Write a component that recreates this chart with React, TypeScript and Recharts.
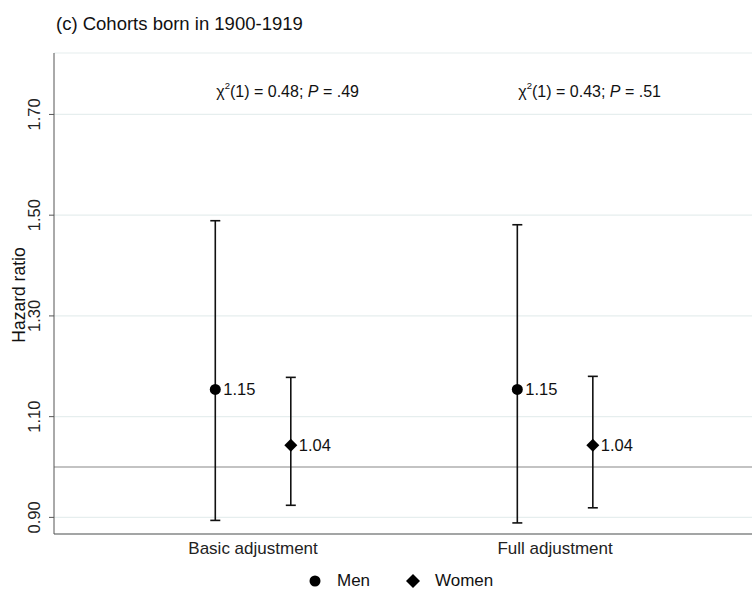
import {
  ComposedChart,
  Scatter,
  ErrorBar,
  XAxis,
  YAxis,
  CartesianGrid,
  ReferenceLine,
  ReferenceDot,
} from 'recharts';

// values
const categories = ['Basic adjustment', 'Full adjustment'];
const menHR = [1.154, 1.154];
const menLow = [0.894, 0.889];
const menHigh = [1.489, 1.481];
const womenHR = [1.043, 1.043];
const womenLow = [0.924, 0.919];
const womenHigh = [1.178, 1.18];
const chiSq = ['0.48', '0.43'];
const pValues = ['.49', '.51'];
const yTicks = [0.9, 1.1, 1.3, 1.5, 1.7];

const FONT = '"Liberation Sans", Arial, sans-serif';
const GROUP_OFFSET = 0.125;
const ANNOT_Y = 1.734;

const menData = categories.map((c, i) => ({
  x: i + 1 - GROUP_OFFSET,
  y: menHR[i],
  err: [menHR[i] - menLow[i], menHigh[i] - menHR[i]],
}));

const womenData = categories.map((c, i) => ({
  x: i + 1 + GROUP_OFFSET,
  y: womenHR[i],
  err: [womenHR[i] - womenLow[i], womenHigh[i] - womenHR[i]],
}));

const CircleShape = (p: any) => (
  <g>
    <circle cx={p.cx} cy={p.cy} r={5.5} fill="#000" />
    <text x={p.cx + 8} y={p.cy + 6} fontSize={16.5} fontFamily={FONT} fill="#111">
      {p.payload.y.toFixed(2)}
    </text>
  </g>
);

const DiamondShape = (p: any) => (
  <g>
    <polygon
      points={`${p.cx},${p.cy - 6.5} ${p.cx + 6.5},${p.cy} ${p.cx},${p.cy + 6.5} ${p.cx - 6.5},${p.cy}`}
      fill="#000"
    />
    <text x={p.cx + 8} y={p.cy + 6} fontSize={16.5} fontFamily={FONT} fill="#111">
      {p.payload.y.toFixed(2)}
    </text>
  </g>
);

const YTick = (p: any) => (
  <text
    x={p.x - 5}
    y={p.y}
    transform={`rotate(-90, ${p.x - 5}, ${p.y})`}
    textAnchor="middle"
    fontSize={16.5}
    fontFamily={FONT}
    fill="#222"
  >
    {Number(p.payload.value).toFixed(2)}
  </text>
);

const annotation = (i: number) => (p: any) => (
  <text x={p.cx + 1} y={p.cy} fontSize={16} fontFamily={FONT} fill="#111">
    χ
    <tspan dy={-8} fontSize={9.5}>2</tspan>
    <tspan dy={8}>{`(1) = ${chiSq[i]}; `}</tspan>
    <tspan fontStyle="italic">P</tspan>
    <tspan>{` = ${pValues[i]}`}</tspan>
  </text>
);

const legendText = {
  position: 'absolute' as const,
  top: 571,
  fontFamily: FONT,
  fontSize: 17,
  color: '#111',
  lineHeight: '20px',
};

export default function App() {
  return (
    <div style={{ position: 'absolute', left: 0, top: 0, width: 752, height: 590, background: '#fff', overflow: 'hidden' }}>
      <div
        style={{
          position: 'absolute',
          left: 56,
          top: 13,
          fontFamily: FONT,
          fontSize: 18.5,
          color: '#111',
          lineHeight: '21px',
          whiteSpace: 'nowrap',
        }}
      >
        (c) Cohorts born in 1900-1919
      </div>
      <ComposedChart width={752} height={590} margin={{ top: 53, right: 0, bottom: 26, left: 0 }}>
        <CartesianGrid vertical={false} stroke="#e6eeee" strokeWidth={1.2} />
        <XAxis
          type="number"
          dataKey="x"
          domain={[0.341, 2.652]}
          ticks={[1, 2]}
          allowDataOverflow
          tickFormatter={(v: number) => categories[v - 1]}
          tickLine={false}
          tickSize={6}
          height={30}
          stroke="#555"
          tick={{ fontSize: 17, fontFamily: FONT, fill: '#222' }}
        />
        <YAxis
          type="number"
          dataKey="y"
          domain={[0.867, 1.822]}
          ticks={yTicks}
          allowDataOverflow
          width={54}
          tickSize={5}
          tickMargin={4}
          stroke="#555"
          tick={<YTick />}
          label={{
            content: (lp: any) => {
              const vb = lp.viewBox;
              const cy = vb.y + vb.height / 2 + 1.5;
              return (
                <text
                  x={25}
                  y={cy}
                  transform={`rotate(-90, 25, ${cy})`}
                  textAnchor="middle"
                  fontSize={17.5}
                  fontFamily={FONT}
                  fill="#111"
                >
                  Hazard ratio
                </text>
              );
            },
          }}
        />
        <ReferenceLine y={1} stroke="#888" strokeWidth={1.2} />
        <Scatter data={menData} shape={<CircleShape />} isAnimationActive={false}>
          <ErrorBar dataKey="err" direction="y" width={5} stroke="#111" strokeWidth={1.6} />
        </Scatter>
        <Scatter data={womenData} shape={<DiamondShape />} isAnimationActive={false}>
          <ErrorBar dataKey="err" direction="y" width={5} stroke="#111" strokeWidth={1.6} />
        </Scatter>
        {categories.map((c, i) => (
          <ReferenceDot
            key={c}
            x={i + 1 - GROUP_OFFSET}
            y={ANNOT_Y}
            r={0}
            shape={annotation(i)}
          />
        ))}
      </ComposedChart>
      <svg width={12} height={12} style={{ position: 'absolute', left: 309, top: 575 }}>
        <circle cx={6} cy={6} r={5.5} fill="#000" />
      </svg>
      <span style={{ ...legendText, left: 337 }}>Men</span>
      <svg width={14} height={14} style={{ position: 'absolute', left: 406, top: 574 }}>
        <polygon points="7,0 14,7 7,14 0,7" fill="#000" />
      </svg>
      <span style={{ ...legendText, left: 435 }}>Women</span>
    </div>
  );
}
